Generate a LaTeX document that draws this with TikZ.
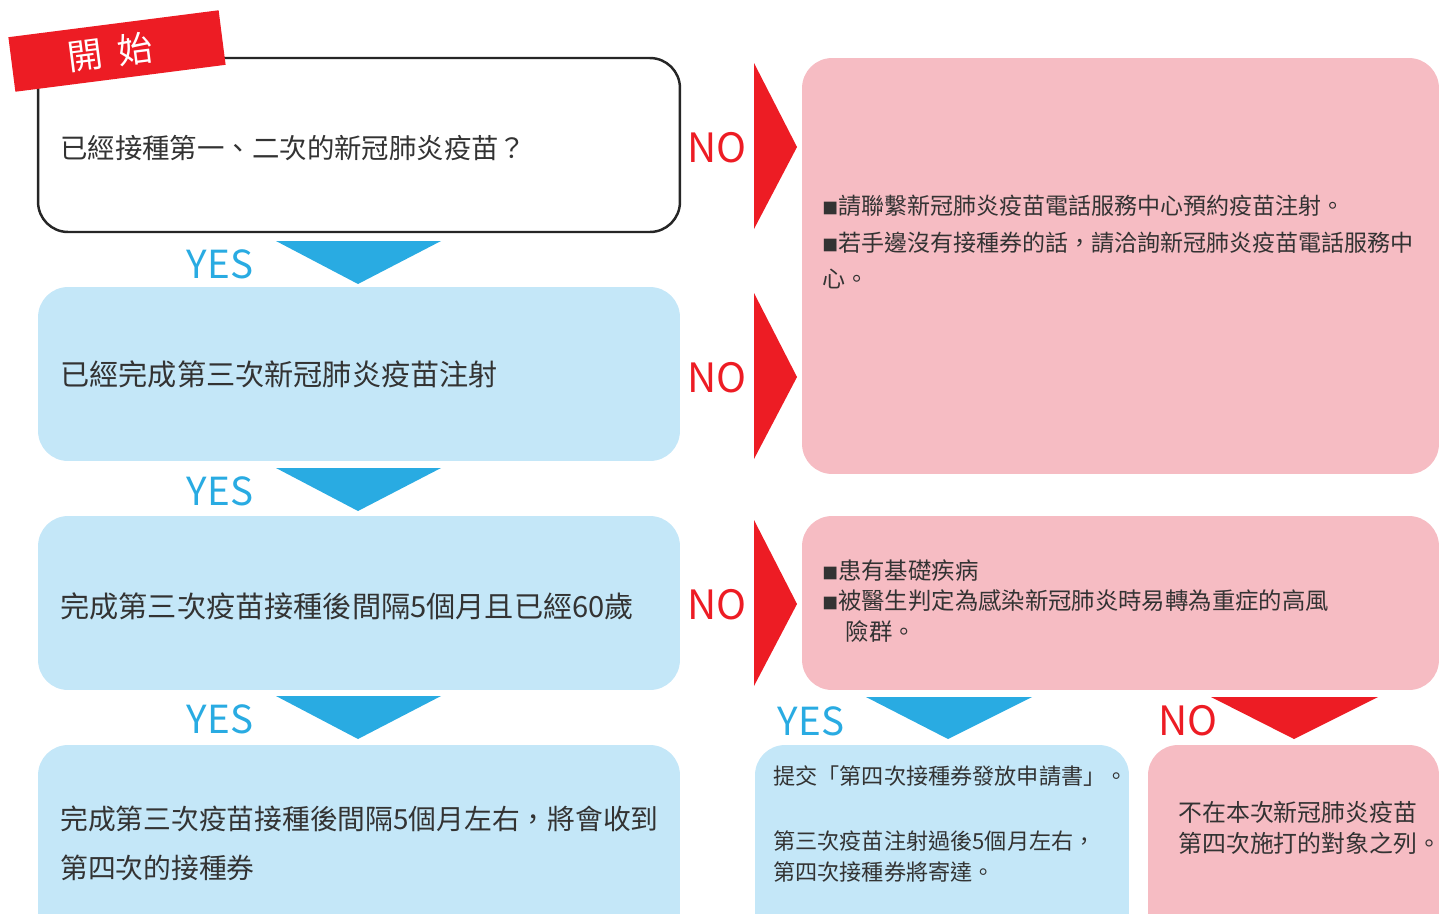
\documentclass[tikz,border=0pt]{standalone}
\usepackage{fontspec}
\setmainfont{Noto Sans CJK TC}
\usetikzlibrary{positioning}

\definecolor{flowred}{HTML}{ED1C24}
\definecolor{flowblue}{HTML}{29ABE2}
\definecolor{boxblue}{HTML}{C4E7F8}
\definecolor{boxpink}{HTML}{F6BCC3}
\definecolor{textgray}{HTML}{333333}

\begin{document}
\begin{tikzpicture}[
	x=0.02cm, y=-0.02cm,
	startbox/.style={
		rectangle,
		rounded corners=0.6cm,
		draw=black!85,
		line width=1.4pt,
		fill=white,
		inner sep=0pt
	},
	bluebox/.style={
		rectangle,
		rounded corners=0.6cm,
		fill=boxblue,
		inner sep=0pt
	},
	pinkbox/.style={
		rectangle,
		rounded corners=0.6cm,
		fill=boxpink,
		inner sep=0pt
	},
	starttag/.style={
		rectangle,
		fill=flowred,
		text=white,
		minimum width=4.24cm,
		minimum height=1.1cm,
		font=\fontsize{20pt}{20pt}\selectfont
	},
	boxtext/.style={
		anchor=west,
		align=left,
		inner sep=0pt,
		text=textgray,
		font=\fontsize{16pt}{28pt}\selectfont
	},
	notetext/.style={
		anchor=west,
		align=left,
		inner sep=0pt,
		text=textgray,
		font=\fontsize{13.1pt}{21pt}\selectfont
	},
	yeslabel/.style={
		inner sep=0pt,
		text=flowblue,
		font=\fontsize{22pt}{22pt}\selectfont
	},
	nolabel/.style={
		inner sep=0pt,
		text=flowred,
		font=\fontsize{23pt}{23pt}\selectfont
	}
]

\clip (0,0) rectangle (1439,913);

% left column
\node[startbox, minimum width=12.84cm, minimum height=3.48cm] (ask) at (359,145) {};
\node[bluebox, minimum width=12.84cm, minimum height=3.48cm] (third) at (359,374) {};
\node[bluebox, minimum width=12.84cm, minimum height=3.48cm] (age) at (359,603) {};
\node[bluebox, minimum width=12.84cm, minimum height=4cm] (voucher) at (359,845) {};

% right column
\node[pinkbox, minimum width=12.74cm, minimum height=8.32cm] (hotline) at (1120.5,266) {};
\node[pinkbox, minimum width=12.74cm, minimum height=3.48cm] (risk) at (1120.5,603) {};
\node[bluebox, minimum width=7.48cm, minimum height=4cm] (apply) at (942,845) {};
\node[pinkbox, minimum width=5.82cm, minimum height=4cm] (notlist) at (1293.5,845) {};

\node[starttag, rotate=7.3] (start) at (117,51) {\hspace{-0.4em}開\hspace{0.45em}始};

\node[boxtext, font=\fontsize{15.6pt}{28pt}\selectfont] (askt) at (60,148) {已經接種第一、二次的新冠肺炎疫苗？};
\node[boxtext, font=\fontsize{16.6pt}{28pt}\selectfont] (thirdt) at (60,374) {已經完成第三次新冠肺炎疫苗注射};
\node[boxtext, font=\fontsize{16.6pt}{28pt}\selectfont] (aget) at (60,606) {完成第三次疫苗接種後間隔5個月且已經60歲};
\node[boxtext, font=\fontsize{15.8pt}{28pt}\selectfont] (vouchert) at (60,843) {完成第三次疫苗接種後間隔5個月左右，將會收到\\第四次的接種券};

\node[notetext] (hotlinet) at (822,242) {{\small ■}請聯繫新冠肺炎疫苗電話服務中心預約疫苗注射。\\{\small ■}若手邊沒有接種券的話，請洽詢新冠肺炎疫苗電話服務中\\心。};
\node[notetext, font=\fontsize{13.3pt}{17.5pt}\selectfont] (riskt) at (822,601) {{\small ■}患有基礎疾病\\{\small ■}被醫生判定為感染新冠肺炎時易轉為重症的高風\\\hspace{1em}險群。};
\node[notetext, font=\fontsize{12.6pt}{17.5pt}\selectfont] (applyt) at (773,824) {提交「第四次接種券發放申請書」。\\[0.68cm]第三次疫苗注射過後5個月左右，\\第四次接種券將寄達。};
\node[notetext, font=\fontsize{13.6pt}{18pt}\selectfont] (notlistt) at (1178,828) {不在本次新冠肺炎疫苗\\第四次施打的對象之列。};

% yes markers
\foreach \top in {241,468,696} {
	\fill[flowblue] (276,\top) -- (441,\top) -- (358,\top+43) -- cycle;
	\node[yeslabel] (yes\top) at (220,\top+23) {YES};
}
\fill[flowblue] (866,697) -- (1032,697) -- (948,739) -- cycle;
\node[yeslabel] (yesapply) at (811,721) {YES};

% no markers
\foreach \top in {63,293,520} {
	\fill[flowred] (754,\top) -- (797,\top+84) -- (754,\top+166) -- cycle;
	\node[nolabel] (no\top) at (717,\top+85) {NO};
}
\fill[flowred] (1211,697) -- (1378,697) -- (1294,739) -- cycle;
\node[nolabel] (nolist) at (1188,721) {NO};

\end{tikzpicture}
\end{document}
